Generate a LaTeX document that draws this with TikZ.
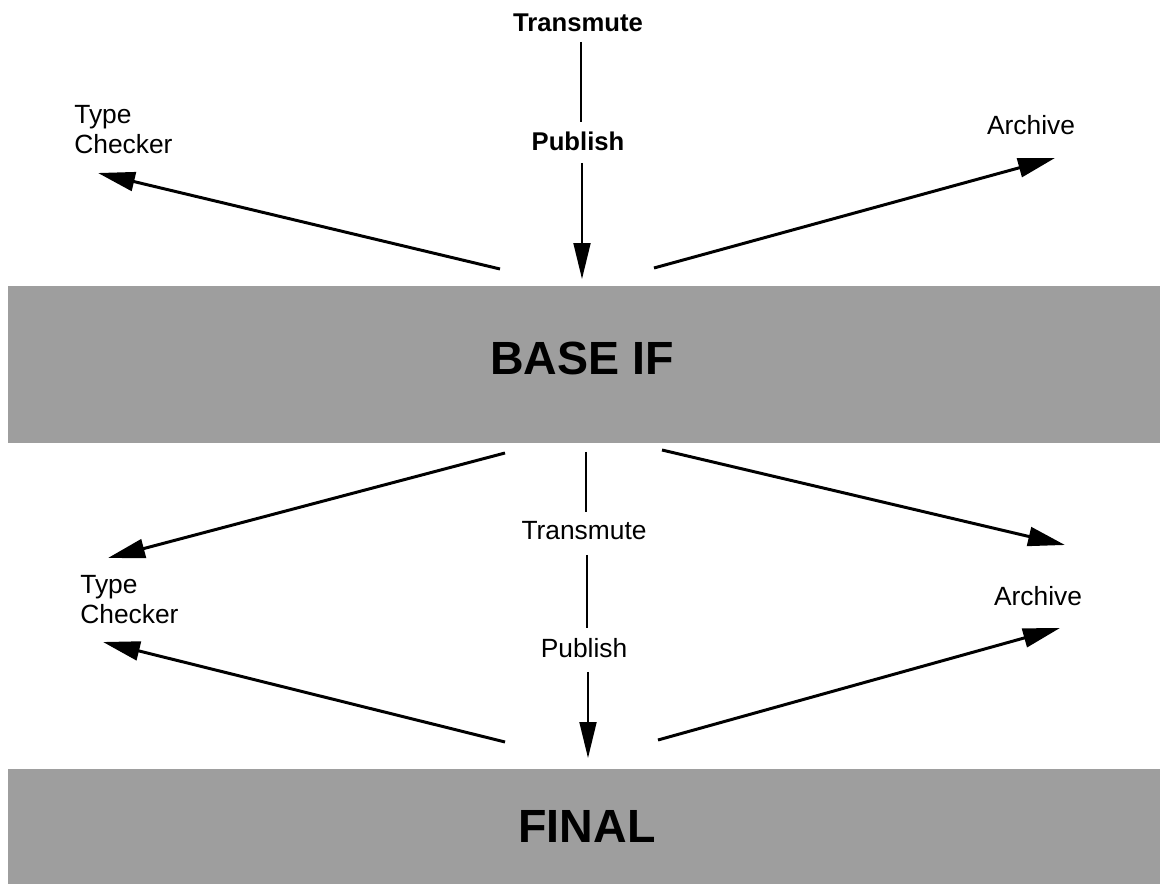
\documentclass[tikz,border=0pt]{standalone}
\usepackage{fontspec}
\setmainfont{Liberation Sans}
\usetikzlibrary{arrows.meta}
\begin{document}
\begin{tikzpicture}[x=0.02cm,y=-0.02cm,
  band/.style={fill=black!38, draw=none, inner sep=0, anchor=north west},
  lbl/.style={font=\fontsize{15}{17}\selectfont, inner sep=0, align=left, anchor=north west},
  ctr/.style={font=\fontsize{15}{17}\selectfont, inner sep=0},
  ctrb/.style={font=\bfseries\fontsize{14.6}{17}\selectfont, inner sep=0},
  title/.style={font=\bfseries\fontsize{26.5}{30}\selectfont, inner sep=0},
  link/.style={line width=1.7pt, -{Triangle[length=0.74cm,width=0.38cm]}},
  stem/.style={line width=1.1pt},
  stemarrow/.style={line width=1.1pt, -{Triangle[length=0.72cm,width=0.34cm]}}]
\useasboundingbox (0,0) rectangle (1160,884);

% shaded layers
\node[band, minimum width=23.04cm, minimum height=3.14cm] (baseband) at (8,286) {};
\node[band, minimum width=23.04cm, minimum height=2.30cm] (finalband) at (8,769) {};
\node[title] (base) at (582,358) {BASE IF};
\node[title] (final) at (587,826) {FINAL};

% upper tier labels
\node[ctrb] (tm1) at (578,23) {Transmute};
\node[ctrb] (pub1) at (578,141) {Publish};
\node[lbl] (tc1) at (74,105) {Type\\Checker};
\node[ctr] (ar1) at (1031,125) {Archive};

% lower tier labels
\node[ctr] (tm2) at (584,531) {Transmute};
\node[ctr] (pub2) at (584,648) {Publish};
\node[lbl] (tc2) at (80,575) {Type\\Checker};
\node[ctr] (ar2) at (1038,596) {Archive};

% connector end points
\coordinate (u0) at (581,42);  \coordinate (u1) at (581,122);
\coordinate (u2) at (582,163); \coordinate (u3) at (582,279);
\coordinate (ul0) at (500,269); \coordinate (ul1) at (98,173);
\coordinate (ur0) at (654,268); \coordinate (ur1) at (1055,158);

\coordinate (m0) at (586,452); \coordinate (m1) at (586,512);
\coordinate (m2) at (587,555); \coordinate (m3) at (587,628);
\coordinate (m4) at (588,672); \coordinate (m5) at (588,758);
\coordinate (dl0) at (505,453); \coordinate (dl1) at (108,558);
\coordinate (dr0) at (662,450); \coordinate (dr1) at (1065,545);
\coordinate (el0) at (505,742); \coordinate (el1) at (103,642);
\coordinate (er0) at (658,740); \coordinate (er1) at (1060,628);

% upper tier connectors
\draw[stem] (u0) -- (u1);
\draw[stemarrow] (u2) -- (u3);
\draw[link] (ul0) -- (ul1);
\draw[link] (ur0) -- (ur1);

% lower tier connectors
\draw[stem] (m0) -- (m1);
\draw[stem] (m2) -- (m3);
\draw[stemarrow] (m4) -- (m5);
\draw[link] (dl0) -- (dl1);
\draw[link] (dr0) -- (dr1);
\draw[link] (el0) -- (el1);
\draw[link] (er0) -- (er1);
\end{tikzpicture}
\end{document}
